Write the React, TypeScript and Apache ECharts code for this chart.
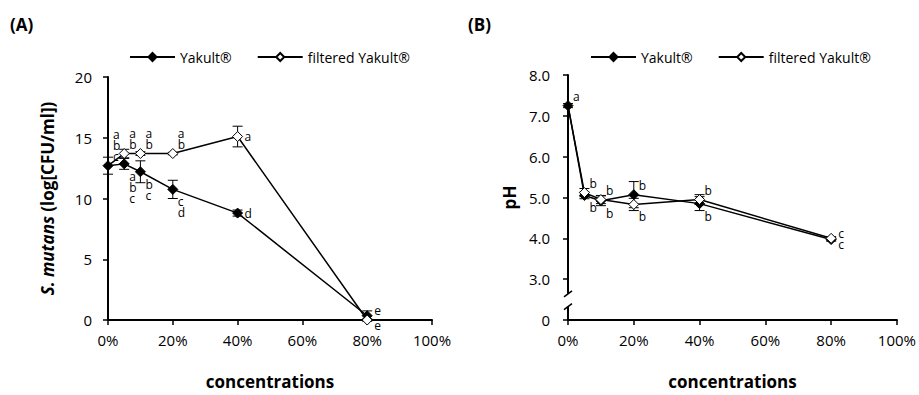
import React, { useEffect, useRef } from "react";
import * as echarts from "echarts";

// ---- data ----
const concentrations = [0, 5, 10, 20, 40, 80];
const seriesNames = ["Yakult®", "filtered Yakult®"];

const mutansYakult = [12.7, 12.85, 12.2, 10.75, 8.8, 0.35];
const mutansYakultErr = [0.7, 0.45, 0.9, 0.75, 0.25, 0.4];
const mutansYakultLetters = ["abc", "abc", "bc", "cd", "d", "e"];

const mutansFiltered = [12.7, 13.7, 13.7, 13.7, 15.1, 0.0];
const mutansFilteredErr = [0, 0.35, 0.15, 0.1, 0.85, 0.1];
const mutansFilteredLetters = ["", "ab", "ab", "ab", "a", "e"];

const phYakult = [7.25, 5.05, 4.92, 5.07, 4.85, 3.97];
const phYakultErr = [0.05, 0.08, 0.12, 0.32, 0.17, 0.04];
const phYakultLetters = ["a", "b", "b", "b", "b", "c"];

const phFiltered = [7.25, 5.12, 4.95, 4.83, 4.95, 4.0];
const phFilteredErr = [0, 0.1, 0.1, 0.15, 0.12, 0.04];
const phFilteredLetters = ["", "b", "b", "b", "b", "c"];

// letter placement relative to the point (style, not data)
const mutansYakultPlace = ["ur", "lr", "lr", "lr", "r", "ru"];
const mutansFilteredPlace = ["", "ur", "ur", "ur", "r", "rd"];
const phYakultPlace = ["ur", "lr", "lr", "ur", "lr", "rd"];
const phFilteredPlace = ["", "ur", "ur", "lr", "ur", "ru"];

const FONT = "'Open Sans', 'Liberation Sans', sans-serif";

function errData(vals: number[], errs: number[]) {
  return concentrations
    .map((c, i) => [c, vals[i] - errs[i], vals[i] + errs[i]])
    .filter((d, i) => errs[i] > 0);
}

function letterData(vals: number[], letters: string[], place: string[]) {
  const out: any[] = [];
  concentrations.forEach((c, i) => {
    if (letters[i]) out.push([c, vals[i], letters[i], place[i]]);
  });
  return out;
}

function errorSeries(vals: number[], errs: number[], idx: number) {
  return {
    type: "custom",
    xAxisIndex: idx,
    yAxisIndex: idx,
    z: 1,
    silent: true,
    itemStyle: { color: "#000" },
    encode: { x: 0, y: [1, 2] },
    data: errData(vals, errs),
    renderItem: (params: any, api: any) => {
      const x = api.value(0);
      const top = api.coord([x, api.value(2)]);
      const bot = api.coord([x, api.value(1)]);
      const w = 5;
      const st = { stroke: "#000", lineWidth: 1 };
      return {
        type: "group",
        children: [
          { type: "line", shape: { x1: top[0], y1: top[1], x2: bot[0], y2: bot[1] }, style: st },
          { type: "line", shape: { x1: top[0] - w, y1: top[1], x2: top[0] + w, y2: top[1] }, style: st },
          { type: "line", shape: { x1: bot[0] - w, y1: bot[1], x2: bot[0] + w, y2: bot[1] }, style: st },
        ],
      };
    },
  };
}

function letterSeries(vals: number[], letters: string[], place: string[], idx: number) {
  const data = letterData(vals, letters, place);
  return {
    type: "custom",
    xAxisIndex: idx,
    yAxisIndex: idx,
    z: 5,
    silent: true,
    itemStyle: { color: "#000" },
    encode: { x: 0, y: 1 },
    data,
    renderItem: (params: any, api: any) => {
      const d = data[params.dataIndex];
      const p = api.coord([d[0], d[1]]);
      const text = String(d[2]).split("").join("\n");
      let x = p[0] + 5;
      let y = p[1];
      let va = "middle";
      switch (d[3]) {
        case "ur":
          y = p[1] - 4;
          va = "bottom";
          break;
        case "lr":
          y = p[1] + 7;
          va = "top";
          break;
        case "r":
          x = p[0] + 7;
          break;
        case "ru":
          x = p[0] + 7;
          y = p[1] - 5;
          break;
        case "rd":
          x = p[0] + 7;
          y = p[1] + 5;
          break;
      }
      return {
        type: "text",
        style: {
          text,
          x,
          y,
          align: "left",
          verticalAlign: va,
          font: `12px ${FONT}`,
          lineHeight: 11,
          fill: "#000",
        },
      };
    },
  };
}

function lineSeries(name: string, vals: number[], hollow: boolean, idx: number) {
  return {
    type: "line",
    name,
    xAxisIndex: idx,
    yAxisIndex: idx,
    z: hollow ? 4 : 3,
    data: concentrations.map((c, i) =>
      hollow && i === 0 ? { value: [c, vals[i]], symbol: "none" } : { value: [c, vals[i]] }
    ),
    symbol: "diamond",
    symbolSize: 10,
    showAllSymbol: true,
    lineStyle: { color: "#000", width: 1.5 },
    itemStyle: hollow
      ? { color: "#fff", borderColor: "#000", borderWidth: 1 }
      : { color: "#000", borderColor: "#000", borderWidth: 1 },
    emphasis: { disabled: true },
  };
}

const axisCommon = {
  axisLine: { show: true, lineStyle: { color: "#000", width: 2 } },
  axisTick: { show: true, length: 5, lineStyle: { color: "#000", width: 1.5 } },
  splitLine: { show: false },
};

function xAxis(idx: number) {
  return {
    type: "value",
    gridIndex: idx,
    min: 0,
    max: 100,
    interval: 20,
    ...axisCommon,
    axisLabel: {
      formatter: (v: number) => `${v}%`,
      color: "#000",
      fontSize: 15,
      fontFamily: FONT,
      margin: 12,
    },
    name: "concentrations",
    nameLocation: "middle",
    nameGap: 53,
    nameTextStyle: { color: "#000", fontSize: 17, fontWeight: "bold", fontFamily: FONT },
  };
}

export default function App() {
  const ref = useRef<HTMLDivElement>(null);
  useEffect(() => {
    if (!ref.current) return;
    const chart = echarts.init(ref.current, undefined, { renderer: "svg" });
    const legendCommon = {
      top: 45,
      itemWidth: 45,
      itemHeight: 10,
      itemGap: 25,
      data: seriesNames,
      selectedMode: false,
      textStyle: { color: "#000", fontSize: 14, fontFamily: FONT },
    };
    chart.setOption({
      animation: false,
      backgroundColor: "#fff",
      color: ["#000", "#000"],
      grid: [
        { left: 108, top: 77, width: 324, height: 249 },
        { left: 568, top: 75, width: 330, height: 252 },
      ],
      legend: [
        { ...legendCommon, left: 124 },
        { ...legendCommon, left: 585 },
      ],
      xAxis: [xAxis(0), xAxis(1)],
      yAxis: [
        {
          type: "value",
          gridIndex: 0,
          min: 0,
          max: 20,
          interval: 5,
          ...axisCommon,
          axisLabel: { color: "#000", fontSize: 15, fontFamily: FONT, margin: 16 },
          name: "{i|S. mutans} (log[CFU/ml])",
          nameLocation: "middle",
          nameGap: 52,
          nameTextStyle: {
            color: "#000",
            fontSize: 17,
            fontWeight: "bold",
            fontFamily: FONT,
            rich: {
              i: { fontStyle: "italic", fontWeight: "bold", fontSize: 17, fontFamily: FONT, color: "#000" },
            },
          },
        },
        {
          type: "value",
          gridIndex: 1,
          min: 2,
          max: 8,
          interval: 1,
          ...axisCommon,
          axisLabel: {
            color: "#000",
            fontSize: 15,
            fontFamily: FONT,
            margin: 18,
            formatter: (v: number) => (v === 2 ? "0" : v.toFixed(1)),
          },
          name: "pH",
          nameLocation: "middle",
          nameGap: 50,
          nameTextStyle: { color: "#000", fontSize: 17, fontWeight: "bold", fontFamily: FONT },
        },
      ],
      series: [
        errorSeries(mutansYakult, mutansYakultErr, 0),
        errorSeries(mutansFiltered, mutansFilteredErr, 0),
        lineSeries(seriesNames[0], mutansYakult, false, 0),
        lineSeries(seriesNames[1], mutansFiltered, true, 0),
        letterSeries(mutansYakult, mutansYakultLetters, mutansYakultPlace, 0),
        letterSeries(mutansFiltered, mutansFilteredLetters, mutansFilteredPlace, 0),
        errorSeries(phYakult, phYakultErr, 1),
        errorSeries(phFiltered, phFilteredErr, 1),
        lineSeries(seriesNames[0], phYakult, false, 1),
        lineSeries(seriesNames[1], phFiltered, true, 1),
        letterSeries(phYakult, phYakultLetters, phYakultPlace, 1),
        letterSeries(phFiltered, phFilteredLetters, phFilteredPlace, 1),
      ],
    });

    // axis break marks on the pH axis
    const a = chart.convertToPixel({ xAxisIndex: 1, yAxisIndex: 1 } as any, [0, 2.64]) as number[];
    const b = chart.convertToPixel({ xAxisIndex: 1, yAxisIndex: 1 } as any, [0, 2.33]) as number[];
    const brk = { stroke: "#000", lineWidth: 1.5 };
    chart.setOption({
      graphic: [
        { type: "text", left: 10, top: 16, style: { text: "(A)", font: `bold 17px ${FONT}`, fill: "#000" } },
        { type: "text", left: 468, top: 16, style: { text: "(B)", font: `bold 17px ${FONT}`, fill: "#000" } },
        { type: "rect", shape: { x: a[0] - 3, y: a[1], width: 6, height: b[1] - a[1] }, style: { fill: "#fff" }, z: 100 },
        { type: "line", shape: { x1: a[0] - 4, y1: a[1] + 3, x2: a[0] + 4, y2: a[1] - 3 }, style: brk, z: 101 },
        { type: "line", shape: { x1: b[0] - 4, y1: b[1] + 3, x2: b[0] + 4, y2: b[1] - 3 }, style: brk, z: 101 },
      ],
    });
    return () => chart.dispose();
  }, []);
  return (
    <div
      ref={ref}
      style={{ position: "fixed", left: 0, top: 0, width: 919, height: 395, background: "#fff" }}
    />
  );
}
